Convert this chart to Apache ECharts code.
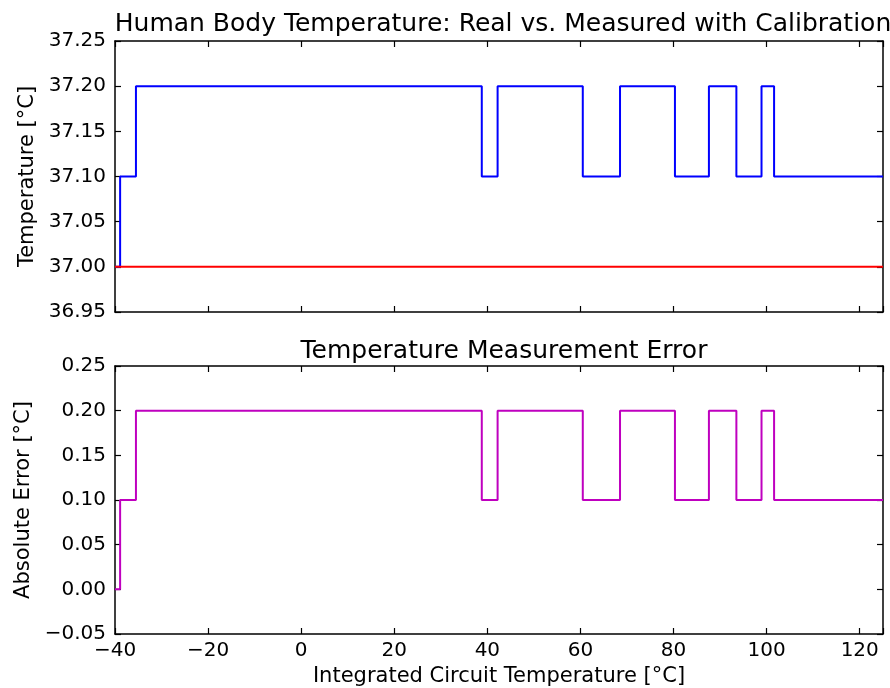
<!DOCTYPE html>
<html>
<head>
<meta charset="utf-8">
<script src="https://cdn.jsdelivr.net/npm/echarts@6/dist/echarts.min.js"></script>
<style>html,body{margin:0;padding:0;background:#fff;}#c{width:890px;height:688px;}</style>
</head>
<body>
<div id="c"></div>
<script>
// Breakpoints (IC temperature, °C) where the measured value changes
const breakTemps = [-40, -38.9, -35.5, 38.8, 42.2, 60.5, 68.5, 80.3, 87.6, 93.5, 98.9, 101.6, 125];
// Measured body temperature from each breakpoint onward
const measuredTemps = [37.0, 37.1, 37.2, 37.1, 37.2, 37.1, 37.2, 37.1, 37.2, 37.1, 37.2, 37.1, 37.1];
// Real body temperature
const realX = [-40, 125];
const realTemps = [37.0, 37.0];
// Absolute error from each breakpoint onward
const errorVals = [0.0, 0.1, 0.2, 0.1, 0.2, 0.1, 0.2, 0.1, 0.2, 0.1, 0.2, 0.1, 0.1];

const xTicks = [-40, -20, 0, 20, 40, 60, 80, 100, 120];

const FONT = 'DejaVu Sans';
const minus = s => String(s).replace('-', '\u2212');
const pair = (xs, ys) => xs.map((x, i) => [x, ys[i]]);

const G = [
  {left: 115, top: 41, width: 768, height: 271},
  {left: 115, top: 366, width: 768, height: 270}
];
const axisLine = {show: true, onZero: false, lineStyle: {color: '#000', width: 1.5}};
const tick = {show: true, inside: true, length: 6, lineStyle: {color: '#000', width: 1.2}};

function xAx(gi, pos, labels) {
  return {
    type: 'value', gridIndex: gi, position: pos, min: -40, max: 125, interval: 20,
    axisLine, axisTick: tick, splitLine: {show: false},
    axisLabel: labels ? {
      show: true, color: '#000', fontFamily: FONT, fontSize: 20, margin: 7,
      formatter: v => xTicks.includes(v) ? minus(v) : ''
    } : {show: false},
    name: labels ? 'Integrated Circuit Temperature [°C]' : '',
    nameLocation: 'middle', nameGap: 32,
    nameTextStyle: {color: '#000', fontFamily: FONT, fontSize: 21}
  };
}
function yAx(gi, pos, min, max, labels, name, gap) {
  return {
    type: 'value', gridIndex: gi, position: pos, min, max, interval: 0.05,
    axisLine, axisTick: tick, splitLine: {show: false},
    axisLabel: labels ? {
      show: true, color: '#000', fontFamily: FONT, fontSize: 20, margin: 9,
      formatter: v => minus(v.toFixed(2))
    } : {show: false},
    name: labels ? name : '', nameLocation: 'middle', nameGap: gap || 70, nameRotate: 90,
    nameTextStyle: {color: '#000', fontFamily: FONT, fontSize: 21}
  };
}

const chart = echarts.init(document.getElementById('c'), null, {renderer: 'canvas'});
chart.setOption({
  backgroundColor: '#fff',
  animation: false,
  title: [
    {text: 'Human Body Temperature: Real vs. Measured with Calibration', left: 498, top: 7, textAlign: 'center',
     textStyle: {color: '#000', fontFamily: FONT, fontSize: 25, fontWeight: 'normal'}},
    {text: 'Temperature Measurement Error', left: 499, top: 334, textAlign: 'center',
     textStyle: {color: '#000', fontFamily: FONT, fontSize: 25, fontWeight: 'normal'}}
  ],
  grid: G,
  xAxis: [xAx(0, 'bottom', false), xAx(0, 'top', false), xAx(1, 'bottom', true), xAx(1, 'top', false)],
  yAxis: [
    yAx(0, 'left', 36.95, 37.25, true, 'Temperature [°C]', 65), yAx(0, 'right', 36.95, 37.25, false),
    yAx(1, 'left', -0.05, 0.25, true, 'Absolute Error [°C]', 73), yAx(1, 'right', -0.05, 0.25, false)
  ],
  series: [
    {type: 'line', xAxisIndex: 0, yAxisIndex: 0, step: 'end', showSymbol: false, symbol: 'none',
     data: pair(breakTemps, measuredTemps), lineStyle: {color: '#0000ff', width: 2}},
    {type: 'line', xAxisIndex: 0, yAxisIndex: 0, showSymbol: false, symbol: 'none',
     data: pair(realX, realTemps), lineStyle: {color: '#ff0000', width: 2}},
    {type: 'line', xAxisIndex: 2, yAxisIndex: 2, step: 'end', showSymbol: false, symbol: 'none',
     data: pair(breakTemps, errorVals), lineStyle: {color: '#bf00bf', width: 2}}
  ]
});
</script>
</body>
</html>
